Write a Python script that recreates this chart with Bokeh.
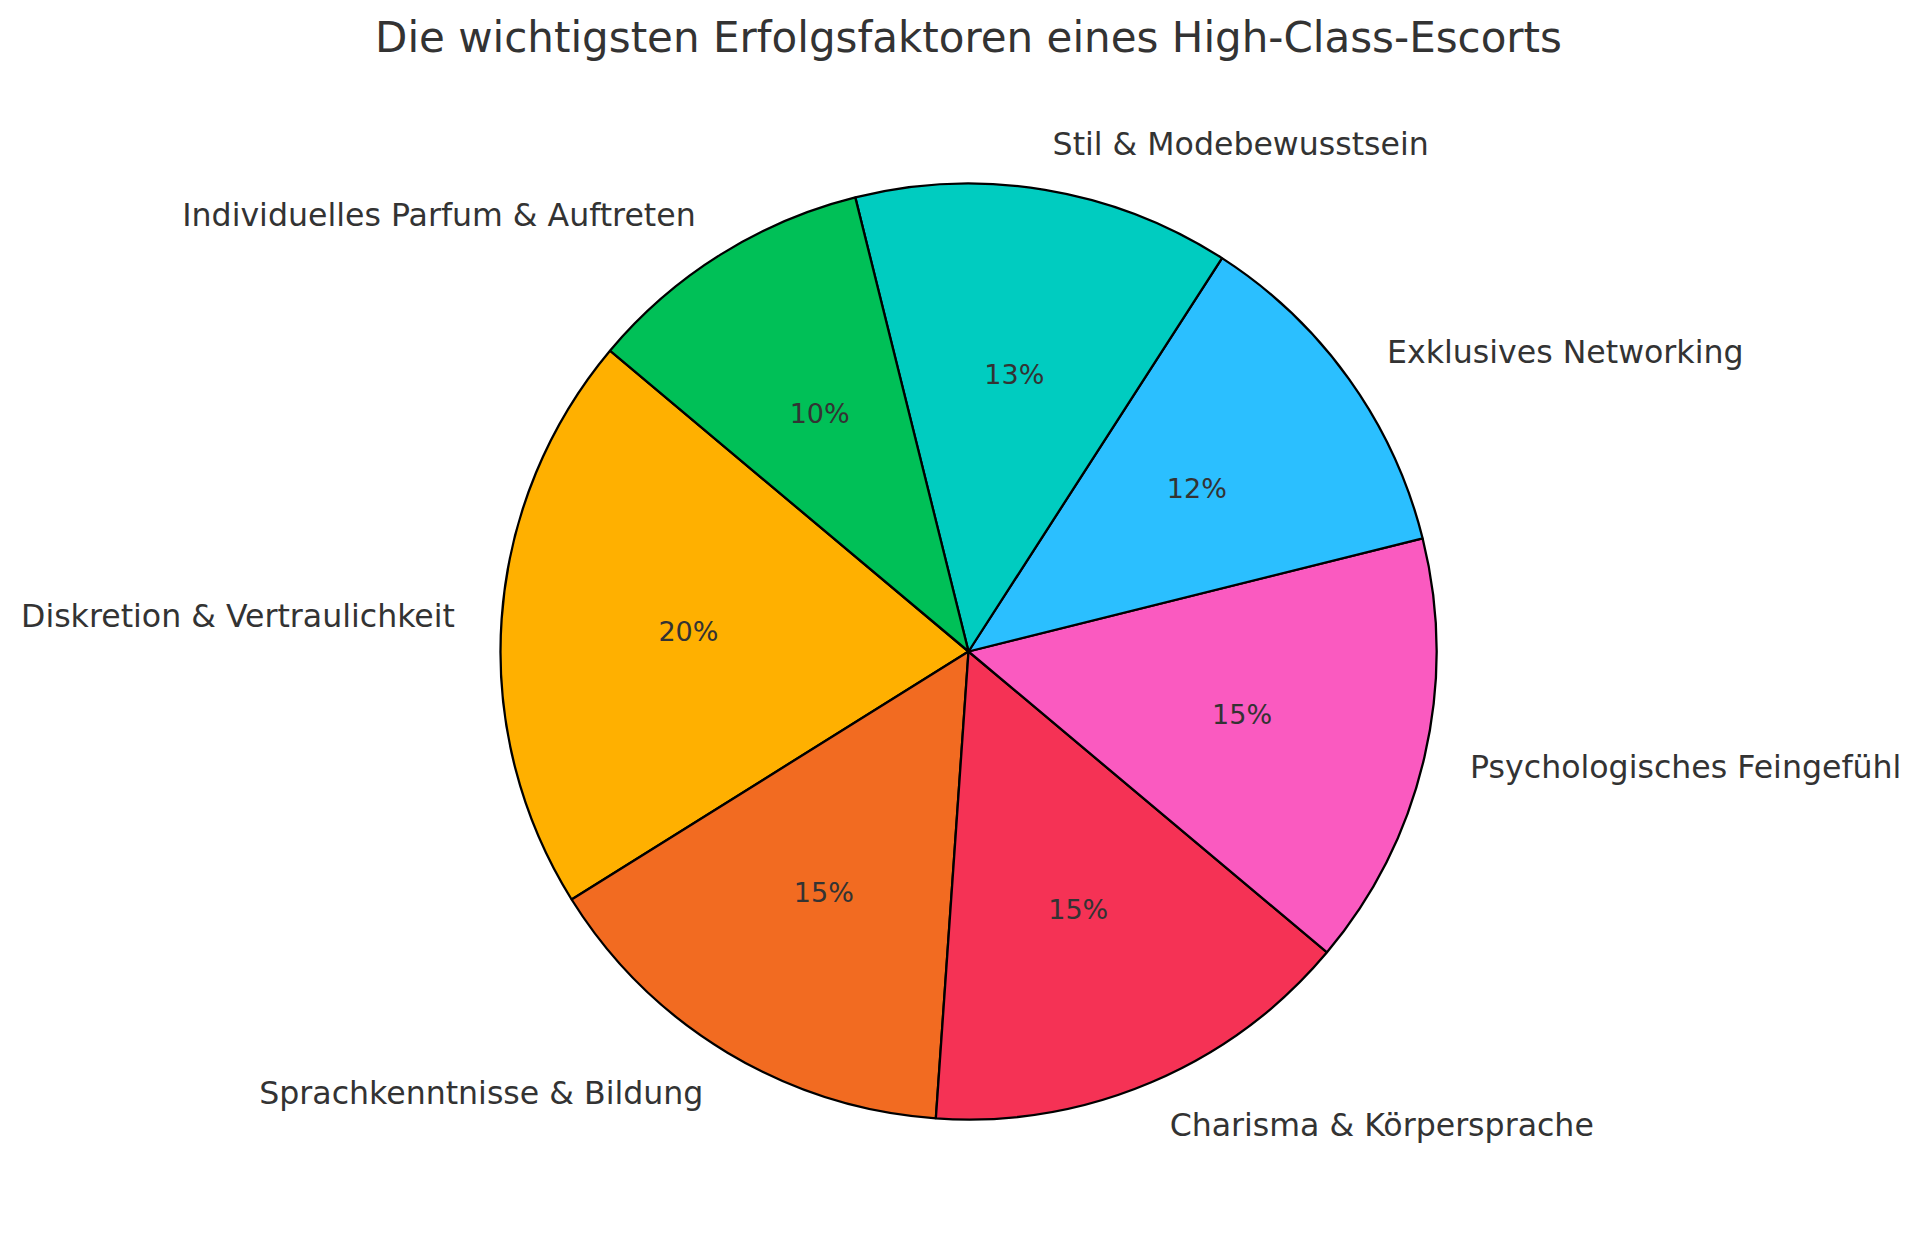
import numpy as np
from bokeh.plotting import figure
from bokeh.models import Range1d, ColumnDataSource
from bokeh.core.properties import value
from bokeh.embed import file_html
from bokeh.resources import INLINE

title = "Die wichtigsten Erfolgsfaktoren eines High-Class-Escorts"
labels = ["Diskretion & Vertraulichkeit", "Sprachkenntnisse & Bildung", "Charisma & Körpersprache",
          "Psychologisches Feingefühl", "Exklusives Networking", "Stil & Modebewusstsein",
          "Individuelles Parfum & Auftreten"]
values = [20, 15, 15, 15, 12, 13, 10]
colors = ["#FFB000", "#F26B21", "#F53255", "#FA5AC0", "#2BBFFF", "#00CCC0", "#00C057"]

W, H = 1920, 1256
cx, cy, R = 968, H - 651, 468
start_deg = 140.0

vals = np.array(values, dtype=float)
frac = vals / vals.sum()
ends = np.radians(start_deg) + 2 * np.pi * np.cumsum(frac)
starts = ends - 2 * np.pi * frac
mids = (starts + ends) / 2

src = ColumnDataSource(dict(
    start=starts, end=ends, color=colors,
    lx=cx + 1.1 * R * np.cos(mids), ly=cy + 1.1 * R * np.sin(mids),
    px=cx + 0.6 * R * np.cos(mids), py=cy + 0.6 * R * np.sin(mids),
    label=labels, pct=["%d%%" % round(v) for v in frac * 100],
    align=["left" if np.cos(m) > 0 else "right" for m in mids],
))

p = figure(width=W, height=H, x_range=Range1d(0, W), y_range=Range1d(0, H),
           output_backend="svg", toolbar_location=None,
           x_axis_location=None, y_axis_location=None, min_border=0)
p.grid.visible = False
p.outline_line_color = None
p.background_fill_color = "white"

p.wedge(x=cx, y=cy, radius=R, start_angle="start", end_angle="end", source=src,
        fill_color="color", line_color="black", line_width=2.3)
p.text(x="lx", y="ly", text="label", source=src, text_align="align", text_baseline="middle",
       text_font=value("DejaVu Sans"), text_font_size="31.6px", text_color="#333333")
p.text(x="px", y="py", text="pct", source=src, text_align="center", text_baseline="middle",
       text_font=value("DejaVu Sans"), text_font_size="27px", text_color="#333333")
p.text(x=[W / 2 + 8], y=[H - 37], text=[title], text_align="center", text_baseline="middle",
       text_font=value("DejaVu Sans"), text_font_size="42px", text_color="#333333")

open("out.html", "w").write(file_html(p, INLINE))
